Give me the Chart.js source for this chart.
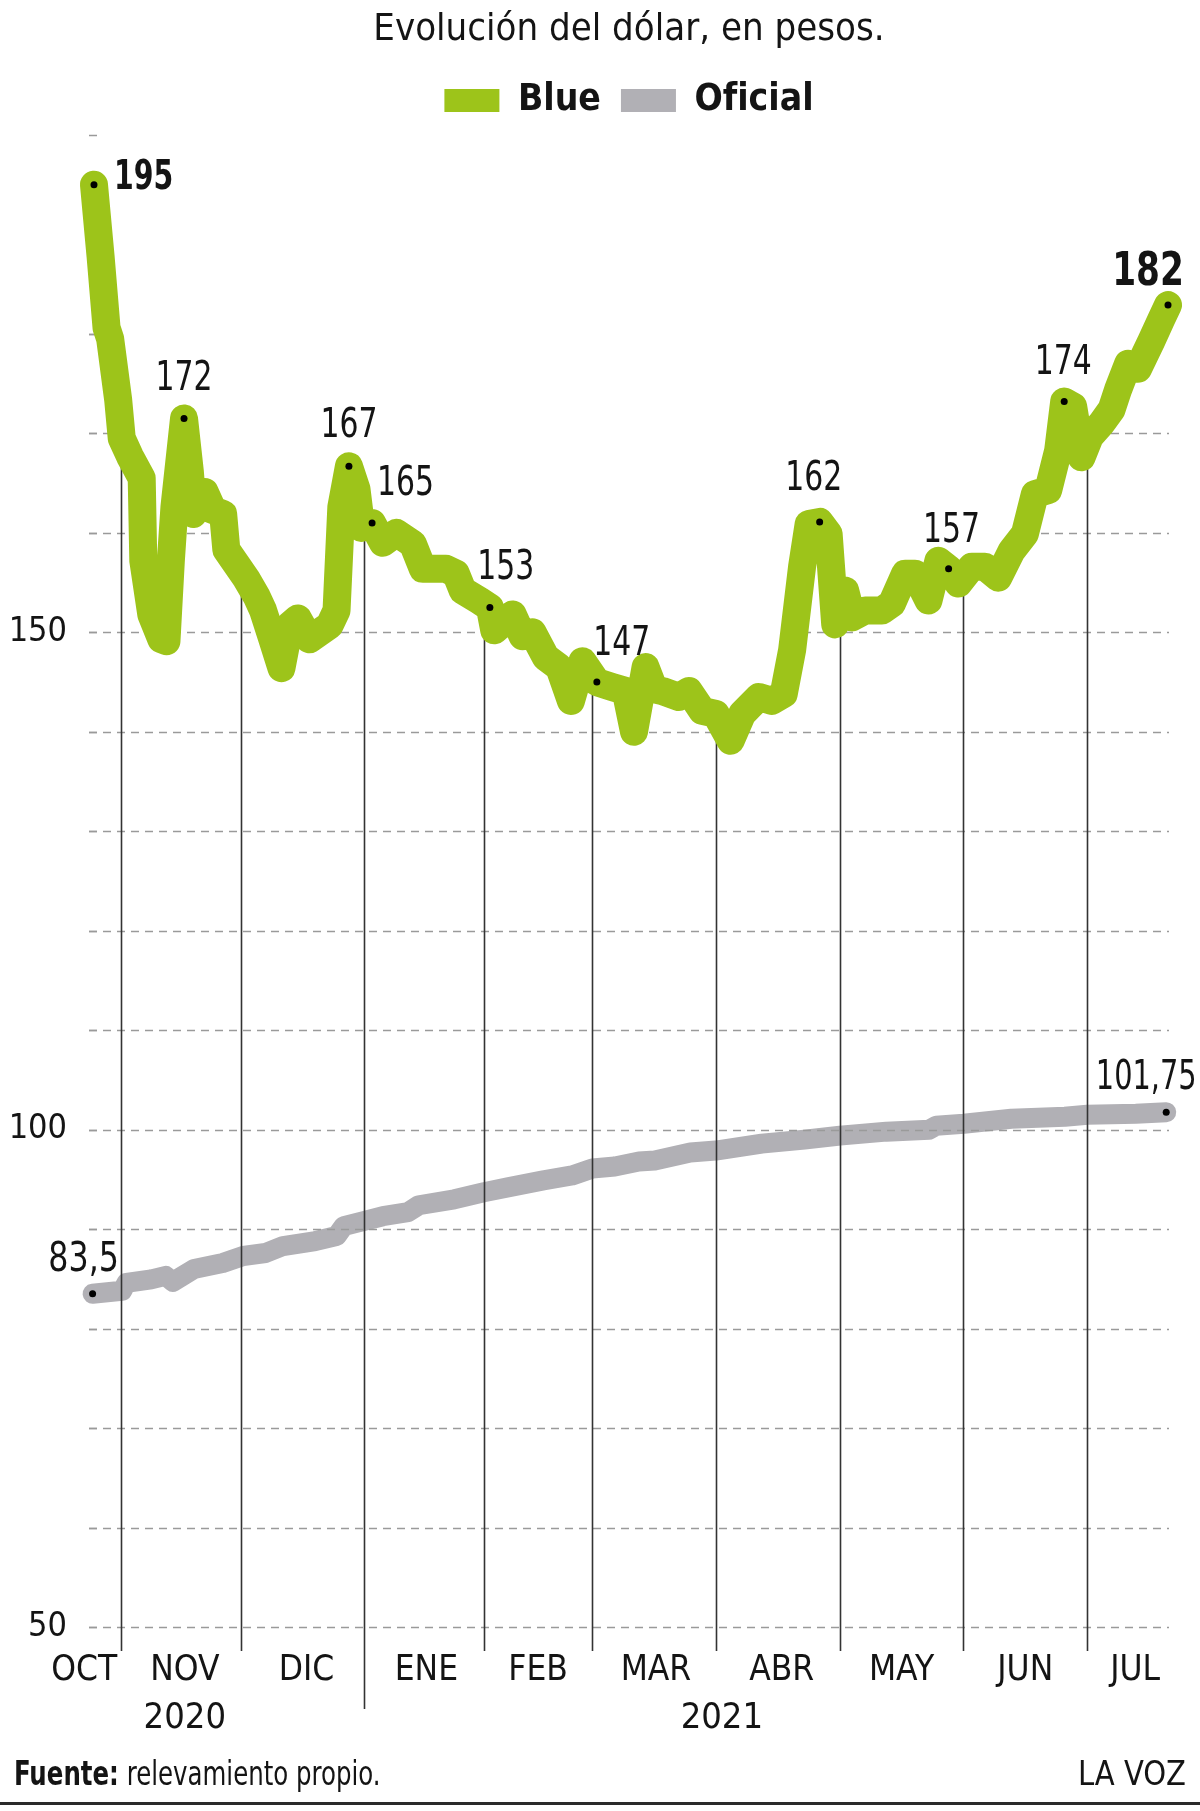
<!DOCTYPE html>
<html lang="es">
<head>
<meta charset="utf-8">
<title>Evolución del dólar, en pesos.</title>
<script src="https://cdn.jsdelivr.net/npm/chart.js@4.4.1/dist/chart.umd.min.js"></script>
<style>
  html, body { margin: 0; padding: 0; background: #fff; }
  canvas { display: block; }
</style>
</head>
<body>
<canvas id="grafico" width="1200" height="1811"></canvas>
<script>
// eje x: días contados desde el 1 de octubre de 2020
const diasBlue = [24.25, 25.9, 27.4, 28.3, 30.3, 31.2, 33.25, 36.2, 36.6, 38.6, 41.1, 42.4, 43.5, 44.4, 46.8, 48.25, 49.1, 50.3, 52, 54,
  56.6, 57.4, 60, 62.4, 65, 66.6, 68.7, 71.2, 73.25, 75.3, 78.25, 80.75, 83.25, 85, 86.2, 88.1, 90, 91.2, 93.9, 96.6,
  100, 104.1, 106.6, 112.4, 114.9, 116.6, 120.75, 123.4, 124.5, 129.1, 131.6, 134.1, 137.4, 140.75, 143.7, 146.6, 150.2, 154.1, 157.4, 159.5,
  162.4, 164.5, 166.6, 170.75, 173.25, 176.6, 180, 183.7, 186.6, 190.75, 194, 197, 199.1, 201.6, 203.25, 206, 208.25, 209.9, 212.4, 214.1,
  217.4, 221.6, 224.1, 227.4, 229.9, 233.25, 235.75, 238.3, 240.75, 244.1, 247.4, 250.75, 254.1, 257.4, 259.9, 263.25, 265.75, 267.25, 269.5, 271.6,
  273.7, 276.6, 279.1, 280.75, 283.25, 285.75, 289.1, 291.6, 293.25];
const valoresBlue = [195, 187.8, 180.6, 179.5, 173.4, 169.5, 167.7, 165.5, 157.2, 151.8, 149.3, 149.1, 157.2, 162.6, 171.5, 166.2, 161.9, 162.6, 164.1, 162.3,
  161.9, 158.3, 156.8, 155.4, 153.6, 152.2, 149.6, 146.4, 150.7, 151.4, 149.3, 150, 150.7, 152.2, 162.6, 166.7, 164.4, 160.5, 161, 159,
  160, 158.9, 156.4, 156.4, 155.9, 154.2, 153.2, 152.5, 150.2, 151.8, 149.6, 150, 147.5, 146.5, 143.1, 147.1, 145, 144.5, 144.1, 140,
  146.5, 144.3, 144.1, 143.5, 144.1, 142.1, 141.8, 139.1, 141.8, 143.5, 143.1, 143.8, 148.2, 156.6, 160.9, 161.1, 159.9, 150.8, 154.2, 151.5,
  152.2, 152.2, 152.9, 155.9, 155.9, 153.2, 157.2, 156.4, 154.9, 156.6, 156.6, 155.5, 158.2, 159.9, 163.9, 164.3, 168.3, 173.2, 172.7, 167.6,
  169.7, 171, 172.4, 174.4, 177, 176.5, 179.3, 181.5, 182.9];

const diasOficial = [23.9, 31.3, 32.4, 38.6, 42.2, 44, 49.3, 56.5, 61.6, 67.2, 71.6, 79.7, 85, 86.8, 91.75, 96.6, 102.9, 105.6, 114.5, 121.9,
  127.9, 136.8, 144, 149.1, 154.7, 160.75, 164.7, 173.6, 180, 191.5, 202.2, 211.1, 222.7, 233.4, 235.2, 242.1, 254, 267.4, 273, 285.2, 292.8];
const valoresOficial = [83.5, 83.8, 84.6, 84.95, 85.3, 84.7, 86, 86.6, 87.3, 87.6, 88.3, 88.8, 89.3, 90.3, 90.8, 91.3, 91.7, 92.4, 93, 93.7,
  94.2, 94.9, 95.4, 96.1, 96.3, 96.8, 96.9, 97.7, 97.9, 98.6, 99, 99.4, 99.8, 100, 100.4, 100.6, 101.1, 101.3, 101.5, 101.6, 101.75];

const meses = ["OCT", "NOV", "DIC", "ENE", "FEB", "MAR", "ABR", "MAY", "JUN", "JUL"];
const diasMeses = [21.8, 47, 77.5, 107.5, 135.5, 165, 196.5, 226.5, 257.5, 285];
const limitesMes = [31, 61, 92, 122, 149, 180, 211, 242, 273];
const anios = ["2020", "2021"];
const diasAnios = [47, 181.5];
const ticksY = [50, 100, 150];

const etiquetasBlue = ["195", "172", "167", "165", "153", "147", "162", "157", "174", "182"];
const diasEtiquetasBlue = [24.25, 46.8, 88.1, 93.9, 123.4, 150.2, 206, 238.3, 267.25, 293.25];
const etiquetasOficial = ["83,5", "101,75"];
const diasEtiquetasOficial = [23.9, 292.8];

const VERDE = "#9dc41a";
const GRIS = "#b1b0b5";
const TEXTO = "#141414";
const FAMILIA = "'Liberation Sans Narrow', 'Arial Narrow', 'DejaVu Sans Condensed', sans-serif";

// desplazamiento y estrechado de cada etiqueta respecto de su punto
const estiloBlue = [
  {align: "left", dx: 20, dy: 4, font: "bold 41px", sx: 0.77},
  {align: "center", dx: 0, dy: -28, font: "40px", sx: 0.83},
  {align: "center", dx: 0, dy: -29, font: "40px", sx: 0.83},
  {align: "left", dx: 5, dy: -28, font: "40px", sx: 0.83},
  {align: "center", dx: 16, dy: -28, font: "40px", sx: 0.83},
  {align: "center", dx: 25, dy: -27, font: "40px", sx: 0.83},
  {align: "center", dx: -6, dy: -32, font: "40px", sx: 0.83},
  {align: "center", dx: 3, dy: -27, font: "40px", sx: 0.83},
  {align: "center", dx: -1, dy: -28, font: "40px", sx: 0.83},
  {align: "center", dx: -20, dy: -20, font: "900 46px", sx: 0.83}
];
const estiloOficial = [
  {align: "center", dx: -9, dy: -23, font: "40px", sx: 0.88},
  {align: "center", dx: -20, dy: -23, font: "40px", sx: 0.8}
];

function valorEn(dias, valores, d) {
  for (let i = 1; i < dias.length; i++) {
    if (dias[i] >= d) {
      const t = (d - dias[i - 1]) / (dias[i] - dias[i - 1]);
      return valores[i - 1] + t * (valores[i] - valores[i - 1]);
    }
  }
  return valores[valores.length - 1];
}

function textoEstrecho(ctx, txt, x, y, sx) {
  ctx.save();
  ctx.translate(x, y);
  ctx.scale(sx, 1);
  ctx.fillText(txt, 0, 0);
  ctx.restore();
}

const adornos = {
  id: "adornos",
  beforeDatasetDraw(chart, args) {
    if (args.index !== 0) return;
    const {ctx, chartArea, scales: {x, y}} = chart;
    const L = chartArea.left, R = chartArea.right, B = chartArea.bottom;

    // líneas de guía punteadas, solo debajo de la curva del blue
    ctx.save();
    ctx.beginPath();
    ctx.moveTo(L, y.getPixelForValue(valoresBlue[0]));
    diasBlue.forEach((d, i) => ctx.lineTo(x.getPixelForValue(d), y.getPixelForValue(valoresBlue[i])));
    ctx.lineTo(R + 2, y.getPixelForValue(valoresBlue[valoresBlue.length - 1]));
    ctx.lineTo(R + 2, B + 4);
    ctx.lineTo(L, B + 4);
    ctx.closePath();
    ctx.clip();
    ctx.strokeStyle = "#9a9a9a";
    ctx.lineWidth = 1.5;
    ctx.setLineDash([8, 6]);
    y.ticks.forEach(t => {
      const py = Math.round(y.getPixelForValue(t.value)) + 0.5;
      ctx.beginPath();
      ctx.moveTo(L, py);
      ctx.lineTo(R, py);
      ctx.stroke();
    });
    ctx.restore();

    // marcas cortas a la izquierda
    ctx.save();
    ctx.strokeStyle = "#9a9a9a";
    ctx.lineWidth = 1.5;
    y.ticks.forEach(t => {
      const py = Math.round(y.getPixelForValue(t.value)) + 0.5;
      ctx.beginPath();
      ctx.moveTo(L, py);
      ctx.lineTo(L + 8, py);
      ctx.stroke();
    });
    ctx.restore();

    // separadores de meses
    ctx.save();
    ctx.strokeStyle = "#333";
    ctx.lineWidth = 1.6;
    limitesMes.forEach((d, i) => {
      const px = Math.round(x.getPixelForValue(d)) + 0.5;
      const top = y.getPixelForValue(valorEn(diasBlue, valoresBlue, d));
      const fin = i === 2 ? B + 82 : B + 24;
      ctx.beginPath();
      ctx.moveTo(px, top);
      ctx.lineTo(px, fin);
      ctx.stroke();
    });
    ctx.restore();
  },
  afterDatasetsDraw(chart) {
    const {ctx, scales: {x, y}} = chart;
    ctx.save();
    ctx.fillStyle = TEXTO;
    ctx.textBaseline = "alphabetic";
    const poner = (dias, valores, textos, diasTxt, estilos) => {
      textos.forEach((txt, k) => {
        const i = dias.indexOf(diasTxt[k]);
        const e = estilos[k];
        ctx.font = e.font + " " + FAMILIA;
        ctx.textAlign = e.align;
        textoEstrecho(ctx, txt, x.getPixelForValue(dias[i]) + e.dx, y.getPixelForValue(valores[i]) + e.dy, e.sx);
      });
    };
    poner(diasBlue, valoresBlue, etiquetasBlue, diasEtiquetasBlue, estiloBlue);
    poner(diasOficial, valoresOficial, etiquetasOficial, diasEtiquetasOficial, estiloOficial);
    ctx.restore();
  },
  afterDraw(chart) {
    const {ctx, chartArea, scales: {x}} = chart;
    ctx.save();
    ctx.fillStyle = TEXTO;
    ctx.textBaseline = "middle";
    ctx.textAlign = "center";
    ctx.font = "36px " + FAMILIA;
    anios.forEach((a, i) => ctx.fillText(a, x.getPixelForValue(diasAnios[i]), chartArea.bottom + 92));

    // pie
    const yPie = 1776;
    const sx = 0.8;
    ctx.textAlign = "left";
    ctx.font = "bold 34px " + FAMILIA;
    textoEstrecho(ctx, "Fuente:", 14, yPie, sx);
    const w = ctx.measureText("Fuente:").width * sx;
    ctx.font = "34px " + FAMILIA;
    textoEstrecho(ctx, " relevamiento propio.", 14 + w, yPie, sx);
    ctx.textAlign = "right";
    textoEstrecho(ctx, "LA VOZ", 1186, yPie, 0.95);
    ctx.fillStyle = "#2a2a2a";
    ctx.fillRect(0, 1802, 1200, 3);
    ctx.restore();
  }
};

const marcados = (dias, lista) => ctx => lista.includes(dias[ctx.dataIndex]) ? 3.5 : 0;

new Chart(document.getElementById("grafico"), {
  type: "line",
  data: {
    datasets: [
      {
        label: "Blue",
        data: diasBlue.map((d, i) => ({x: d, y: valoresBlue[i]})),
        borderColor: VERDE,
        backgroundColor: VERDE,
        borderWidth: 28,
        borderJoinStyle: "round",
        borderCapStyle: "round",
        tension: 0,
        clip: false,
        pointRadius: marcados(diasBlue, diasEtiquetasBlue),
        pointBackgroundColor: "#000",
        pointBorderWidth: 0,
        pointHoverRadius: 0
      },
      {
        label: "Oficial",
        data: diasOficial.map((d, i) => ({x: d, y: valoresOficial[i]})),
        borderColor: GRIS,
        backgroundColor: GRIS,
        borderWidth: 20,
        borderJoinStyle: "round",
        borderCapStyle: "round",
        tension: 0,
        clip: false,
        pointRadius: marcados(diasOficial, diasEtiquetasOficial),
        pointBackgroundColor: "#000",
        pointBorderWidth: 0,
        pointHoverRadius: 0
      }
    ]
  },
  options: {
    responsive: false,
    animation: false,
    devicePixelRatio: 1,
    layout: {padding: {top: 0, right: 31, bottom: 104, left: 0}},
    plugins: {
      title: {
        display: true,
        fullSize: false,
        text: "Evolución del dólar, en pesos.",
        color: TEXTO,
        font: {family: FAMILIA, size: 38, weight: "normal", lineHeight: 1.1},
        padding: {top: 9, bottom: 11.2}
      },
      subtitle: {
        display: true,
        fullSize: false,
        text: "",
        weight: 500,
        font: {size: 1, lineHeight: 1},
        padding: {top: 5, bottom: 0}
      },
      legend: {
        display: true,
        fullSize: false,
        labels: {
          color: TEXTO,
          font: {family: FAMILIA, size: 37, weight: "bold"},
          boxWidth: 55,
          boxHeight: 23,
          padding: 20,
          generateLabels: chart => Chart.defaults.plugins.legend.labels.generateLabels(chart)
            .map(item => ({...item, lineWidth: 0, strokeStyle: item.fillStyle}))
        }
      },
      tooltip: {enabled: false}
    },
    scales: {
      x: {
        type: "linear",
        min: 23,
        max: 293.5,
        grid: {display: false},
        border: {display: false},
        afterBuildTicks: axis => { axis.ticks = diasMeses.map(v => ({value: v})); },
        ticks: {
          autoSkip: false,
          maxRotation: 0,
          padding: 15,
          color: TEXTO,
          font: {family: FAMILIA, size: 35},
          callback: (v, i) => meses[i]
        }
      },
      y: {
        type: "linear",
        min: 50,
        max: 200,
        grid: {display: false},
        border: {display: false},
        afterFit: scale => { scale.width = 89; },
        ticks: {
          stepSize: 10,
          padding: 14,
          color: TEXTO,
          font: {family: FAMILIA, size: 34},
          callback: v => ticksY.includes(v) ? String(v) : ""
        }
      }
    }
  },
  plugins: [adornos]
});
</script>
</body>
</html>
